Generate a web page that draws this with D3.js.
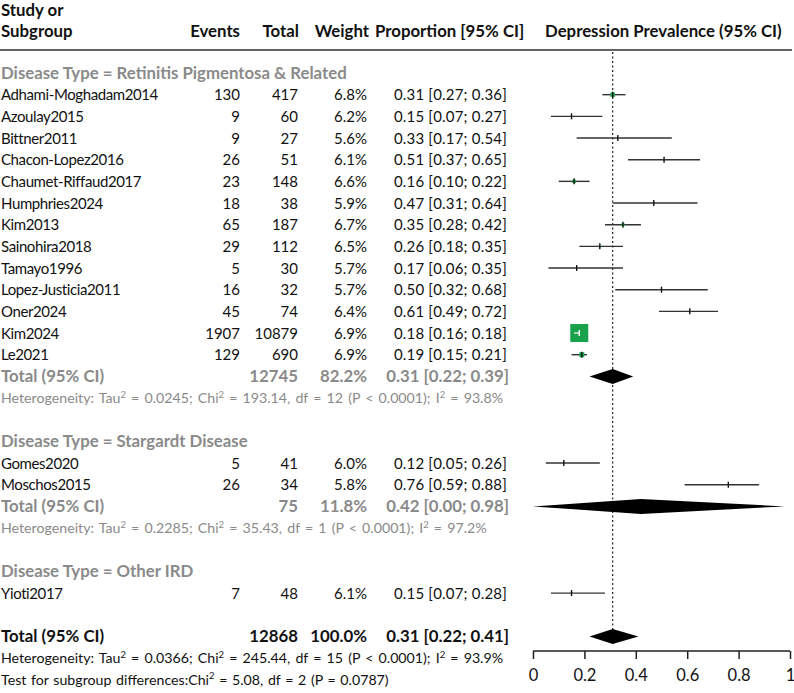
<!DOCTYPE html>
<html>
<head>
<meta charset="utf-8">
<script src="https://cdn.jsdelivr.net/npm/d3@7"></script>
<style>
  body { margin: 0; background: #fff; }
  text { font-family: Lato, "Noto Sans", sans-serif; }
</style>
</head>
<body>
<div id="chart"></div>
<script>
var width = 794, height = 693;

// study level data
var studies = ["Adhami-Moghadam2014", "Azoulay2015", "Bittner2011", "Chacon-Lopez2016",
  "Chaumet-Riffaud2017", "Humphries2024", "Kim2013", "Sainohira2018", "Tamayo1996",
  "Lopez-Justicia2011", "Oner2024", "Kim2024", "Le2021",
  "Gomes2020", "Moschos2015",
  "Yioti2017"];
var groupOf = [0,0,0,0,0,0,0,0,0,0,0,0,0, 1,1, 2];
var events = [130, 9, 9, 26, 23, 18, 65, 29, 5, 16, 45, 1907, 129, 5, 26, 7];
var totals = [417, 60, 27, 51, 148, 38, 187, 112, 30, 32, 74, 10879, 690, 41, 34, 48];
var weights = ["6.8%", "6.2%", "5.6%", "6.1%", "6.6%", "5.9%", "6.7%", "6.5%", "5.7%",
  "5.7%", "6.4%", "6.9%", "6.9%", "6.0%", "5.8%", "6.1%"];
var est = [0.31, 0.15, 0.33, 0.51, 0.16, 0.47, 0.35, 0.26, 0.17, 0.50, 0.61, 0.18, 0.19, 0.12, 0.76, 0.15];
var lo  = [0.27, 0.07, 0.17, 0.37, 0.10, 0.31, 0.28, 0.18, 0.06, 0.32, 0.49, 0.16, 0.15, 0.05, 0.59, 0.07];
var hi  = [0.36, 0.27, 0.54, 0.65, 0.22, 0.64, 0.42, 0.35, 0.35, 0.68, 0.72, 0.18, 0.21, 0.26, 0.88, 0.28];
// drawn box size (px)
var boxSize = [4.5, 1.5, 1, 1.5, 3.5, 1, 3, 2, 1, 1, 1.5, 18, 5, 1, 1, 1.5];

// subgroups
var groupNames = ["Disease Type = Retinitis Pigmentosa & Related",
  "Disease Type = Stargardt Disease", "Disease Type = Other IRD"];
var groupTotalN = ["12745", "75", null];
var groupWeight = ["82.2%", "11.8%", null];
var groupEst = [0.31, 0.42, null];
var groupLo = [0.22, 0.00, null];
var groupHi = [0.39, 0.98, null];
var groupHet = [
  ["0.0245", "193.14", "12", "< 0.0001", "93.8%"],
  ["0.2285", "35.43", "1", "< 0.0001", "97.2%"],
  null];

// overall
var overallN = "12868", overallWeight = "100.0%";
var overallEst = 0.31, overallLo = 0.22, overallHi = 0.41;
var overallHet = ["0.0366", "245.44", "15", "< 0.0001", "93.9%"];
var subgroupTest = ["5.08", "2", "0.0787"];

var xTicks = [0, 0.2, 0.4, 0.6, 0.8, 1];

var fmt = d3.format(".2f");
function ciText(e, l, h) { return fmt(e) + " [" + fmt(l) + "; " + fmt(h) + "]"; }

// build row layout
var rows = [];
groupNames.forEach(function(g, gi) {
  rows.push({ type: "group", label: g });
  studies.forEach(function(s, i) {
    if (groupOf[i] === gi) rows.push({ type: "study", i: i });
  });
  if (groupTotalN[gi] !== null) {
    rows.push({ type: "gtotal", gi: gi });
    rows.push({ type: "ghet", gi: gi });
  }
  rows.push({ type: "blank" });
});
rows.push({ type: "total" });
rows.push({ type: "het" });
rows.push({ type: "test" });

var y = d3.scaleLinear().domain([0, 1]).range([73, 73 + 21.67]);
var x = d3.scaleLinear().domain([0, 1]).range([533, 790]);

var svg = d3.select("#chart").append("svg")
  .attr("width", width)
  .attr("height", height);

var grey = "#8a8a8a";
var green = "#1aa14b";
var regSize = 15, boldSize = 16.8, noteSize = 14.2;

// header
var hdr = svg.append("g").attr("font-weight", "bold").attr("font-size", boldSize).attr("fill", "#111");
hdr.append("text").attr("x", 1).attr("y", 16).text("Study or");
hdr.append("text").attr("x", 1).attr("y", 37).text("Subgroup");
hdr.append("text").attr("x", 240).attr("y", 37).attr("text-anchor", "end").text("Events");
hdr.append("text").attr("x", 299).attr("y", 37).attr("text-anchor", "end").text("Total");
hdr.append("text").attr("x", 369).attr("y", 37).attr("text-anchor", "end").text("Weight");
hdr.append("text").attr("x", 375).attr("y", 37).text("Proportion [95% CI]");
hdr.append("text").attr("x", 545).attr("y", 37).text("Depression Prevalence (95% CI)");

svg.append("line")
  .attr("x1", 0).attr("x2", 792).attr("y1", 50).attr("y2", 50)
  .attr("stroke", "#333").attr("stroke-width", 1.6);

// reference line at overall estimate
var totalRow = rows.findIndex(function(r) { return r.type === "total"; });
svg.append("line")
  .attr("x1", x(overallEst)).attr("x2", x(overallEst))
  .attr("y1", 52).attr("y2", y(totalRow))
  .attr("stroke", "#222").attr("stroke-width", 1.2)
  .attr("stroke-dasharray", "2,2.5");

function sup(t) {
  t.append("tspan").attr("font-size", 9.5).attr("dy", -5.5).text("2");
}

function het(g, r, vals, color) {
  var t = g.append("text").attr("x", 1).attr("y", y(r) + 5)
    .attr("font-size", noteSize).attr("fill", color)
    .attr("word-spacing", 1.5);
  t.append("tspan").text("Heterogeneity: Tau");
  sup(t);
  t.append("tspan").attr("dy", 5.5).text(" = " + vals[0] + "; Chi");
  sup(t);
  t.append("tspan").attr("dy", 5.5).text(" = " + vals[1] + ", df = " + vals[2] + " (P " + vals[3] + "); I");
  sup(t);
  t.append("tspan").attr("dy", 5.5).text(" = " + vals[4]);
}

function diamond(g, r, e, l, h) {
  var cy = y(r);
  g.append("path")
    .attr("d", "M" + x(l) + "," + cy + "L" + x(e) + "," + (cy - 7.5) +
      "L" + x(h) + "," + cy + "L" + x(e) + "," + (cy + 7.5) + "Z")
    .attr("fill", "#000");
}

var body = svg.append("g");

rows.forEach(function(r, ri) {
  var cy = y(ri), ty = cy + 5.5;
  if (r.type === "group") {
    body.append("text").attr("x", 1).attr("y", ty)
      .attr("font-size", boldSize).attr("font-weight", "bold").attr("fill", grey).text(r.label);
  } else if (r.type === "study") {
    var i = r.i;
    var g = body.append("g").attr("font-size", regSize).attr("fill", "#111");
    g.append("text").attr("x", 1).attr("y", ty).attr("letter-spacing", -0.4).text(studies[i]);
    g.append("text").attr("x", 240).attr("y", ty).attr("text-anchor", "end").text(events[i]);
    g.append("text").attr("x", 298).attr("y", ty).attr("text-anchor", "end").text(totals[i]);
    g.append("text").attr("x", 367).attr("y", ty).attr("text-anchor", "end").text(weights[i]);
    g.append("text").attr("x", 507).attr("y", ty).attr("text-anchor", "end")
      .attr("letter-spacing", 0.2).text(ciText(est[i], lo[i], hi[i]));

    var s = boxSize[i];
    g.append("line").attr("x1", x(lo[i])).attr("x2", x(hi[i]))
      .attr("y1", cy).attr("y2", cy).attr("stroke", "#333").attr("stroke-width", 1.4);
    g.append("rect").attr("x", x(est[i]) - s / 2).attr("y", cy - s / 2)
      .attr("width", s).attr("height", s).attr("fill", green);
    var inner = s > 8 ? "#fff" : "#111";
    if (s > 8) {
      g.append("line")
        .attr("x1", Math.max(x(lo[i]), x(est[i]) - s / 2)).attr("x2", Math.min(x(hi[i]), x(est[i]) + s / 2))
        .attr("y1", cy).attr("y2", cy).attr("stroke", "#fff").attr("stroke-width", 1.2);
    }
    g.append("line").attr("x1", x(est[i])).attr("x2", x(est[i]))
      .attr("y1", cy - 3).attr("y2", cy + 3).attr("stroke", inner).attr("stroke-width", 1.4);
  } else if (r.type === "gtotal") {
    var gi = r.gi;
    var g2 = body.append("g").attr("font-size", boldSize).attr("font-weight", "bold").attr("fill", grey);
    g2.append("text").attr("x", 1).attr("y", ty).text("Total (95% CI)");
    g2.append("text").attr("x", 298).attr("y", ty).attr("text-anchor", "end").text(groupTotalN[gi]);
    g2.append("text").attr("x", 367).attr("y", ty).attr("text-anchor", "end").text(groupWeight[gi]);
    g2.append("text").attr("x", 509).attr("y", ty).attr("text-anchor", "end")
      .text(ciText(groupEst[gi], groupLo[gi], groupHi[gi]));
    diamond(body, ri, groupEst[gi], groupLo[gi], groupHi[gi]);
  } else if (r.type === "ghet") {
    het(body, ri, groupHet[r.gi], grey);
  } else if (r.type === "total") {
    var g3 = body.append("g").attr("font-size", boldSize).attr("font-weight", "bold").attr("fill", "#111");
    g3.append("text").attr("x", 1).attr("y", ty).text("Total (95% CI)");
    g3.append("text").attr("x", 298).attr("y", ty).attr("text-anchor", "end").text(overallN);
    g3.append("text").attr("x", 367).attr("y", ty).attr("text-anchor", "end").text(overallWeight);
    g3.append("text").attr("x", 509).attr("y", ty).attr("text-anchor", "end")
      .text(ciText(overallEst, overallLo, overallHi));
    diamond(body, ri, overallEst, overallLo, overallHi);
  } else if (r.type === "het") {
    het(body, ri, overallHet, "#111");
  } else if (r.type === "test") {
    var t = body.append("text").attr("x", 1).attr("y", cy + 5)
      .attr("font-size", noteSize).attr("fill", "#111").attr("word-spacing", 1);
    t.append("tspan").text("Test for subgroup differences:Chi");
    sup(t);
    t.append("tspan").attr("dy", 5.5).text(" = " + subgroupTest[0] + ", df = " + subgroupTest[1] +
      " (P = " + subgroupTest[2] + ")");
  }
});

// axis
var axis = d3.axisBottom(x).tickValues(xTicks)
  .tickFormat(function(d) { return d === 0 || d === 1 ? d3.format("d")(d) : d3.format(".1f")(d); })
  .tickSize(8).tickPadding(10);
var ax = svg.append("g").attr("transform", "translate(0,651)").call(axis);
ax.select(".domain").attr("stroke", "#222").attr("stroke-width", 1.5).attr("d", "M" + x(0) + ",0H" + x(1));
ax.selectAll(".tick line").attr("stroke", "#222").attr("stroke-width", 1.5);
ax.selectAll(".tick text").attr("font-size", 16.5).attr("fill", "#111")
  .attr("font-family", "Lato, 'Noto Sans', sans-serif");
</script>
</body>
</html>
